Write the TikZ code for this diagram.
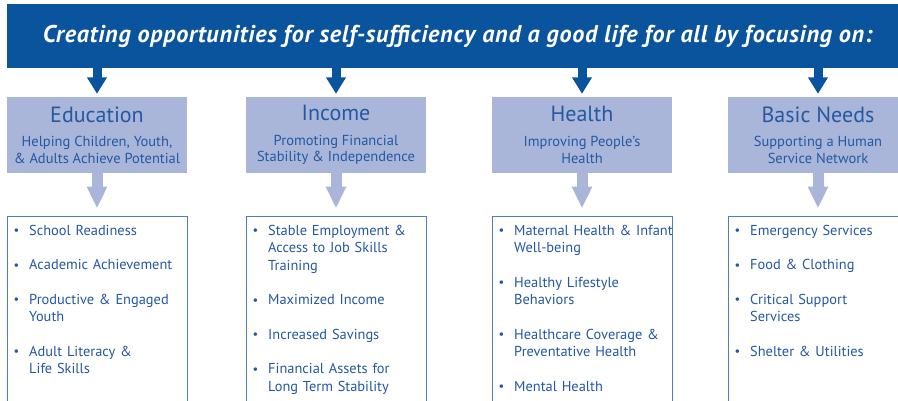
\documentclass[tikz,border=0pt]{standalone}
\usepackage{fontspec}
\setmainfont{PT Sans}
\newfontfamily\bannerfont{PT Sans}[LetterSpace=3]
\newfontfamily\listfamily{PT Sans}[WordSpace=0.7]
\usepackage{tikz}
\usetikzlibrary{arrows.meta,positioning}
\definecolor{bannerblue}{HTML}{0A539D}
\definecolor{softblue}{HTML}{A9B6DA}
\definecolor{textblue}{HTML}{2458A2}
\definecolor{edgeblue}{HTML}{4F7DB9}
\newcommand{\bul}[1]{\par\hangindent=16pt\hangafter=1\noindent\makebox[16pt][l]{\hspace{0.5pt}\raisebox{0.3pt}{\fontsize{12.5}{12}\selectfont\textbullet}}#1\par\vspace{17pt}}
\newcommand{\listfont}{\listfamily\fontsize{14.4}{17.5}\selectfont\setlength{\parskip}{0pt}\raggedright\hyphenpenalty=10000}

\begin{document}
\begin{tikzpicture}[x=1pt,y=-1pt]
            \tikzstyle{banner}=[fill=bannerblue, text=white, inner sep=0pt, minimum width=901pt, minimum height=64pt, font=\fontsize{24.2}{24}\selectfont\bannerfont\bfseries\itshape]
            \tikzstyle{catbox}=[fill=softblue, text=textblue, inner sep=0pt, minimum width=180pt, minimum height=76pt, align=center, font=\fontsize{14.5}{16.7}\selectfont]
            \tikzstyle{listbox}=[draw=edgeblue, line width=0.8pt, text=textblue, inner xsep=6pt, inner ysep=1pt, text width=168pt, text depth=200pt, font=\listfont]
            \tikzstyle{darkarrow}=[draw=bannerblue, line width=9pt, -{Triangle[width=19pt,length=16.5pt]}, shorten >=3pt]
            \tikzstyle{softarrow}=[draw=softblue, line width=11pt, -{Triangle[width=19pt,length=21.5pt]}, shorten >=8pt]
            \useasboundingbox (0,0) rectangle (898,400);
            \fill[white] (0,0) rectangle (898,400);
            \clip (0,0) rectangle (898,400);
            \node[banner, anchor=north west] (banner) at (7,4) {Creating opportunities for self-sufficiency and a good life for all by focusing on:};
            \node[catbox] (edu) at (97,135) {{\fontsize{22}{22}\selectfont Education}\\[8pt]Helping Children, Youth,\\\& Adults Achieve Potential};
            \node[catbox] (inc) at (336,135) {{\fontsize{22}{22}\selectfont Income}\\[8pt]Promoting Financial\\Stability \& Independence};
            \node[catbox] (hea) at (582,135) {{\fontsize{22}{22}\selectfont Health}\\[8pt]Improving People's\\Health};
            \node[catbox] (bas) at (818,135) {{\fontsize{22}{22}\selectfont Basic Needs}\\[8pt]Supporting a Human\\Service Network};
            \node[listbox, below=43pt of edu.south west, anchor=north west] (eduList) {\bul{School Readiness}\bul{Academic Achievement}\bul{Productive \& Engaged\newline Youth}\bul{Adult Literacy \&\newline Life Skills}};
            \node[listbox, below=43pt of inc.south west, anchor=north west] (incList) {\bul{Stable Employment \&\newline Access to Job Skills\newline Training}\bul{Maximized Income}\bul{Increased Savings}\bul{Financial Assets for\newline Long Term Stability}};
            \node[listbox, below=43pt of hea.south west, anchor=north west] (heaList) {\bul{\mbox{Maternal Health \& Infant}\newline Well-being}\bul{Healthy Lifestyle\newline Behaviors}\bul{Healthcare Coverage \&\newline Preventative Health}\bul{Mental Health}};
            \node[listbox, below=43pt of bas.south west, anchor=north west] (basList) {\bul{Emergency Services}\bul{Food \& Clothing}\bul{Critical Support\newline Services}\bul{Shelter \& Utilities}};
            \draw[darkarrow] (banner.south -| edu.north) -- (edu.north);
            \draw[darkarrow] (banner.south -| inc.north) -- (inc.north);
            \draw[darkarrow] (banner.south -| hea.north) -- (hea.north);
            \draw[darkarrow] (banner.south -| bas.north) -- (bas.north);
            \draw[softarrow] (edu.south) -- (eduList.north -| edu.south);
            \draw[softarrow] (inc.south) -- (incList.north -| inc.south);
            \draw[softarrow] (hea.south) -- (heaList.north -| hea.south);
            \draw[softarrow] (bas.south) -- (basList.north -| bas.south);
        \end{tikzpicture}
\end{document}
